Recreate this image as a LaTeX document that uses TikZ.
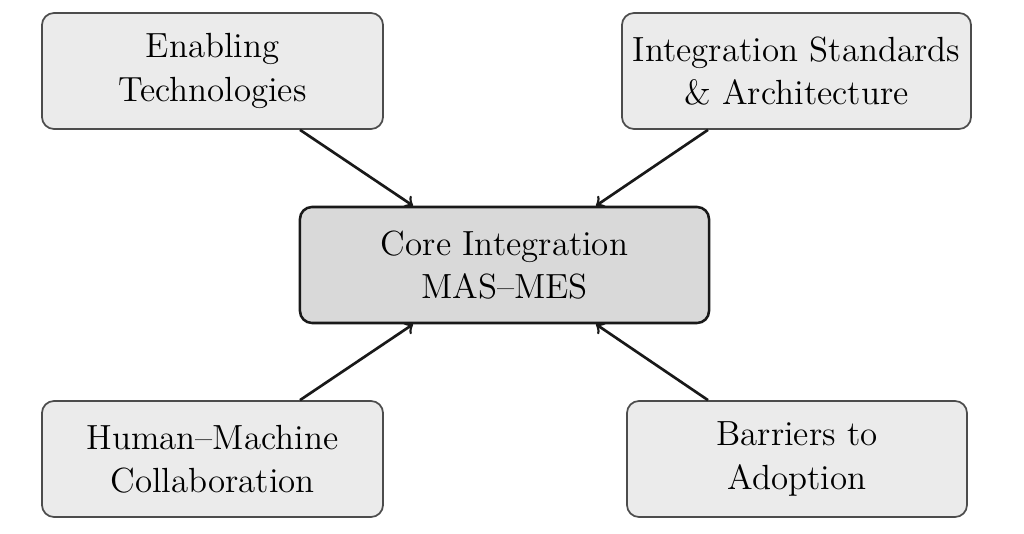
\documentclass[tikz,border=0pt]{standalone}
\usetikzlibrary{calc}
\begin{document}
\begin{tikzpicture}[x=0.375pt,y=-0.375pt,
  box/.style={draw=black!70,line width=0.65pt,fill=black!8,rounded corners=4.5pt,align=center,inner sep=0pt,minimum height=43.5pt,font=\fontsize{13.1}{16.3}\selectfont},
  corebox/.style={box,draw=black!90,line width=0.95pt,fill=black!15},
  arr/.style={->,line width=1pt,draw=black!90}]
\useasboundingbox (0,0) rectangle (1024,534);
\fill[white] (0,0) rectangle (1024,534);
\node[box,minimum width=127.9pt] (tl) at (212.5,71) {Enabling\\Technologies};
\node[box,minimum width=130.9pt] (tr) at (796.5,71) {Integration Standards\\\& Architecture};
\node[corebox,minimum width=153.4pt] (c) at (504.5,265) {Core Integration\\MAS--MES};
\node[box,minimum width=127.9pt] (bl) at (212.5,459) {Human--Machine\\Collaboration};
\node[box,minimum width=127.5pt] (br) at (797,459) {Barriers to\\Adoption};
\draw[arr] ($(tl.south)+(87.5,0)$) -- ($(c.north)+(-91.5,0)$);
\draw[arr] ($(tr.south)+(-88.5,0)$) -- ($(c.north)+(91.5,0)$);
\draw[arr] ($(bl.north)+(87.5,0)$) -- ($(c.south)+(-91.5,0)$);
\draw[arr] ($(br.north)+(-89,0)$) -- ($(c.south)+(91.5,0)$);
\end{tikzpicture}
\end{document}
